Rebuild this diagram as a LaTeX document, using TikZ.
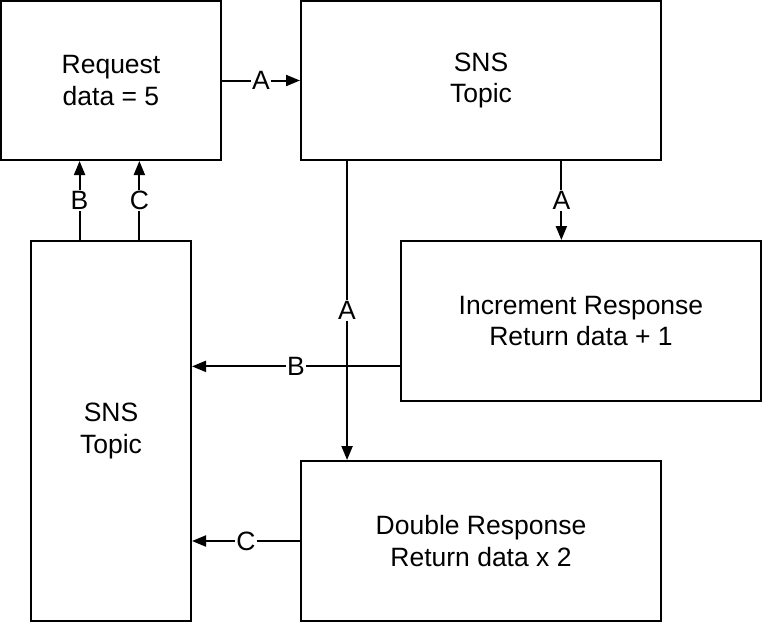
\documentclass[tikz,border=0pt]{standalone}
\usepackage{fontspec}
\setmainfont{Liberation Sans}
\usetikzlibrary{calc,positioning,arrows.meta}

\begin{document}
\begin{tikzpicture}[x=1pt,y=-1pt]

\tikzstyle{box} = [draw=black, line width=2pt, rectangle, inner sep=0pt, align=center, font=\fontsize{26.5}{31.5}\selectfont]
\tikzstyle{conn} = [line width=2pt, -{Triangle[length=14pt,width=11pt]}]
\tikzstyle{lbl} = [fill=white, inner sep=1pt, font=\fontsize{26.5}{31.5}\selectfont]

\useasboundingbox (0,0) rectangle (762,622);

\node (req) [box, minimum width=220pt, minimum height=159pt] at (111,80.5) {Request\\data = 5};
\node (snstop) [box, minimum width=360pt, minimum height=159pt] at (481,80.5) {SNS\\Topic};
\node (inc) [box, minimum width=360pt, minimum height=160pt] at (581,321) {Increment Response\\Return data + 1};
\node (dbl) [box, minimum width=360pt, minimum height=160pt] at (481,541) {Double Response\\Return data x 2};
\node (snsleft) [box, minimum width=160pt, minimum height=380pt] at (111,431) {SNS\\Topic};

% request to topic
\draw [conn] (req.east) -- node [lbl] {A} (snstop.west);

% topic to responses
\coordinate (ta) at ($(snstop.south west)!0.722!(snstop.south east)$);
\coordinate (tb) at ($(snstop.south west)!0.13!(snstop.south east)$);
\draw [conn] (ta) -- node [lbl] {A} (ta |- inc.north);
\draw [conn] (tb) -- node [lbl] {A} (tb |- dbl.north);

% responses to left topic
\coordinate (ib) at ($(inc.north west)!0.78!(inc.south west)$);
\draw [conn] (ib) -- node [lbl] {B} (ib -| snsleft.east);
\draw [conn] (dbl.west) -- node [lbl] {C} (dbl.west -| snsleft.east);

% left topic back to request
\coordinate (lb) at ($(snsleft.north west)!0.306!(snsleft.north east)$);
\coordinate (lc) at ($(snsleft.north west)!0.675!(snsleft.north east)$);
\draw [conn] (lb) -- node [lbl] {B} (lb |- req.south);
\draw [conn] (lc) -- node [lbl] {C} (lc |- req.south);

\end{tikzpicture}
\end{document}
